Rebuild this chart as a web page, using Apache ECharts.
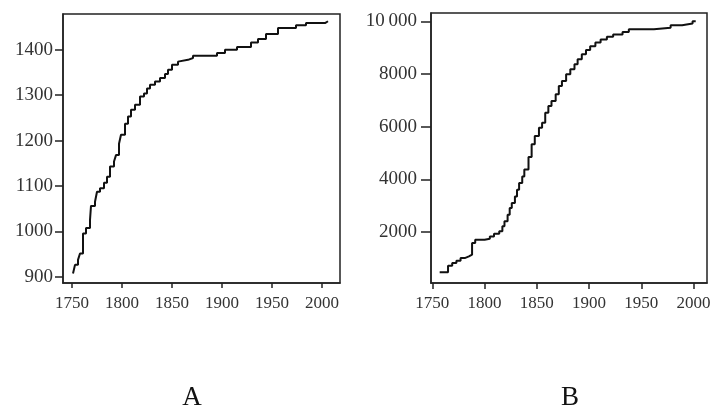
<!DOCTYPE html>
<html>
<head>
<meta charset="utf-8">
<style>
  html, body { margin: 0; padding: 0; background: #fff; }
  #chart { width: 715px; height: 407px; }
</style>
<script src="https://cdn.jsdelivr.net/npm/echarts@6/dist/echarts.min.js"></script>
</head>
<body>
<div id="chart"></div>
<script>
// Panel A: cumulative count, one point per step (year, new total)
const yearsA = [1751,1753,1756,1758,1761,1764,1768,1769,1773,1775,1778,1782,1785,1788,1792,1794,1797,1799,1803,1806,1809,1813,1818,1822,1825,1828,1833,1838,1843,1846,1850,1856,1858,1866,1871,1895,1903,1915,1929,1936,1944,1956,1974,1984,2003,2006];
const valuesA = [907,926,937,951,995,1007,1025,1056,1065,1087,1095,1107,1120,1143,1154,1168,1193,1213,1237,1253,1268,1279,1297,1304,1315,1323,1330,1338,1347,1356,1367,1374,1378,1382,1387,1393,1400,1406,1416,1424,1435,1448,1454,1459,1463,1463];

// Panel B: cumulative count
const yearsB = [1757,1765,1769,1773,1777,1781,1785,1788,1791,1800,1805,1809,1814,1817,1819,1822,1824,1826,1829,1831,1833,1836,1838,1842,1845,1848,1852,1855,1858,1861,1864,1868,1871,1874,1878,1882,1886,1889,1893,1897,1901,1906,1911,1917,1923,1932,1938,1962,1978,1989,1999,2002];
const valuesB = [470,720,820,910,1010,1075,1140,1580,1710,1745,1830,1935,2025,2215,2405,2655,2910,3100,3350,3605,3860,4110,4370,4850,5330,5650,5960,6150,6530,6790,6980,7230,7550,7740,7990,8180,8370,8560,8750,8910,9060,9200,9310,9420,9500,9600,9700,9760,9850,9920,10010,10010];

// Tick marks and their labels
const yearTicks = [1750, 1800, 1850, 1900, 1950, 2000];
const ticksAY = [900, 1000, 1100, 1200, 1300, 1400];
const ticksBY = [2000, 4000, 6000, 8000, 10000];
const labelsBY = ['2000', '4000', '6000', '8000', '10\u2009000'];
const panelNames = ['A', 'B'];

const FONT = 'Liberation Serif, Times New Roman, serif';
const TEXT = '#333';
const AXIS = '#222';

function xAxisCfg(gridIndex, min, max, tickLen) {
  return {
    type: 'value', gridIndex, min, max,
    splitLine: { show: false },
    axisLine: { show: true, onZero: false, lineStyle: { color: AXIS, width: 1.5 } },
    axisTick: { show: true, length: tickLen, customValues: yearTicks, lineStyle: { color: AXIS, width: 1.5 } },
    axisLabel: {
      customValues: yearTicks, margin: 12, fontFamily: FONT, fontSize: 17, color: TEXT,
      formatter: v => String(v)
    }
  };
}
function yAxisCfg(gridIndex, min, max, ticks, labels, tickLen, margin) {
  return {
    type: 'value', gridIndex, min, max,
    splitLine: { show: false },
    axisLine: { show: true, onZero: false, lineStyle: { color: AXIS, width: 1.5 } },
    axisTick: { show: true, length: tickLen, customValues: ticks, lineStyle: { color: AXIS, width: 1.5 } },
    axisLabel: {
      customValues: ticks, margin, fontFamily: FONT, fontSize: 19, color: TEXT,
      formatter: v => labels ? labels[ticks.indexOf(v)] : String(v)
    }
  };
}

const chart = echarts.init(document.getElementById('chart'), null, { renderer: 'canvas' });
chart.setOption({
  animation: false,
  backgroundColor: '#fff',
  grid: [
    { left: 63, top: 14, width: 277, height: 269, show: true, borderColor: AXIS, borderWidth: 1.5, containLabel: false },
    { left: 431, top: 13, width: 276, height: 270, show: true, borderColor: AXIS, borderWidth: 1.5, containLabel: false }
  ],
  xAxis: [
    xAxisCfg(0, 1741, 2018, 5),
    xAxisCfg(1, 1748.7, 2012.8, 6)
  ],
  yAxis: [
    yAxisCfg(0, 886, 1479, ticksAY, null, 8, 10),
    yAxisCfg(1, 63, 10319, ticksBY, labelsBY, 10, 14)
  ],
  series: [
    {
      type: 'line', xAxisIndex: 0, yAxisIndex: 0, step: 'end', showSymbol: false,
      lineStyle: { color: '#111', width: 2 },
      data: yearsA.map((y, i) => [y, valuesA[i]])
    },
    {
      type: 'line', xAxisIndex: 1, yAxisIndex: 1, step: 'end', showSymbol: false,
      lineStyle: { color: '#111', width: 2 },
      data: yearsB.map((y, i) => [y, valuesB[i]])
    }
  ],
  graphic: [
    { type: 'text', x: 192, y: 398, style: { text: panelNames[0], font: '27px ' + FONT, fill: '#111', align: 'center', verticalAlign: 'middle' } },
    { type: 'text', x: 570, y: 398, style: { text: panelNames[1], font: '27px ' + FONT, fill: '#111', align: 'center', verticalAlign: 'middle' } }
  ]
});
</script>
</body>
</html>
